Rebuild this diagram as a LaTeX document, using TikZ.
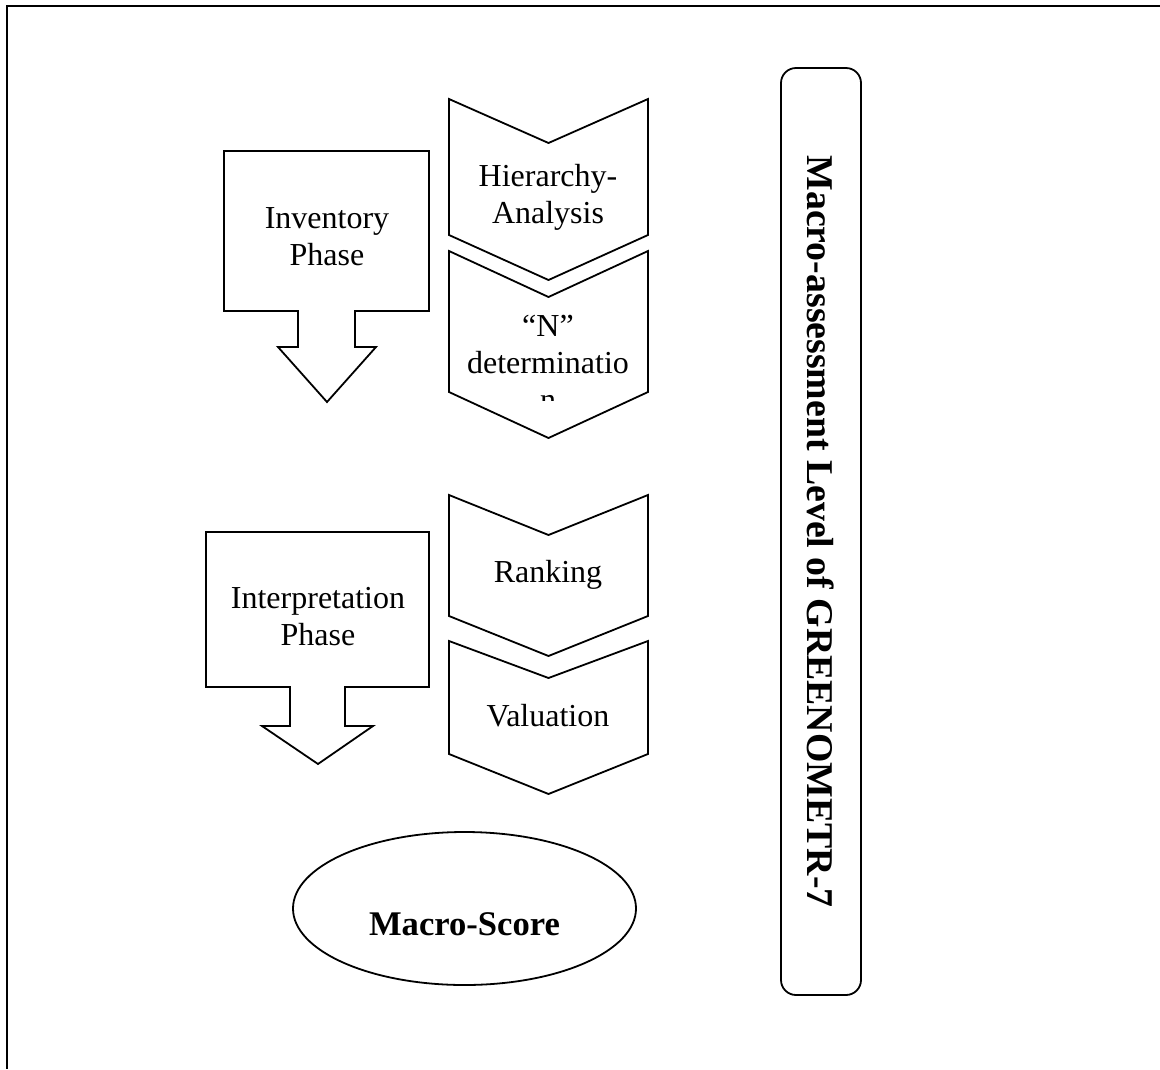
\documentclass[tikz,border=0pt]{standalone}
\usepackage{fontspec}
\setmainfont{Liberation Serif}
\usetikzlibrary{shapes.geometric}
\begin{document}
\begin{tikzpicture}[x=1pt,y=-1pt,
  shapeline/.style={draw=black,line width=1.8pt,line join=miter},
  txt/.style={font=\fontsize{32}{37}\selectfont,align=center,inner sep=0pt,anchor=base},
  boldtxt/.style={font=\fontsize{34.6}{40}\selectfont\bfseries,inner sep=0pt,anchor=base},
  sidetxt/.style={font=\fontsize{37.8}{42}\selectfont\bfseries,inner sep=0pt,rotate=-90}]
\useasboundingbox (0,0) rectangle (1160,1069);

% outer frame (only top and left edges fall inside the page)
\draw[line width=2pt] (1160,6) -- (7,6) -- (7,1069);

% phase arrows (base anchor sits on the last line's baseline)
\draw[shapeline] (224,151) -- (429,151) -- (429,311) -- (355,311) -- (355,347)
  -- (376,347) -- (327,402) -- (278,347) -- (298,347) -- (298,311) -- (224,311) -- cycle;
\node[txt] (inv) at (327,265) {Inventory\\Phase};

\draw[shapeline] (206,532) -- (429,532) -- (429,687) -- (345,687) -- (345,726)
  -- (373,726) -- (318,764) -- (262,726) -- (290,726) -- (290,687) -- (206,687) -- cycle;
\node[txt] (int) at (318,645) {Interpretation\\Phase};

% step chevrons
\draw[shapeline] (449,99) -- (548.5,143) -- (648,99) -- (648,235) -- (548.5,280) -- (449,235) -- cycle;
\node[txt] (hier) at (548,223) {Hierarchy-\\Analysis};

\draw[shapeline] (449,251) -- (548.5,297) -- (648,251) -- (648,392) -- (548.5,438) -- (449,392) -- cycle;
\begin{scope}
  \clip (449,251) rectangle (648,400);
  \node[txt] (ndet) at (548,410) {“N”\\determinatio\\n};
\end{scope}

\draw[shapeline] (449,495) -- (548.5,535) -- (648,495) -- (648,616) -- (548.5,656) -- (449,616) -- cycle;
\node[txt] (rank) at (548,582) {Ranking};

\draw[shapeline] (449,641) -- (548.5,678) -- (648,641) -- (648,754) -- (548.5,794) -- (449,754) -- cycle;
\node[txt] (val) at (548,726) {Valuation};

% result
\draw[shapeline] (464.5,908.5) ellipse [x radius=171.5, y radius=76.5];
\node[boldtxt] (score) at (464.5,935) {Macro-Score};

% side banner
\draw[shapeline,rounded corners=15pt] (781,68) rectangle (861,995);
\node[sidetxt] (level) at (821,531.5) {Macro-assessment Level of GREENOMETR-7};
\end{tikzpicture}
\end{document}
